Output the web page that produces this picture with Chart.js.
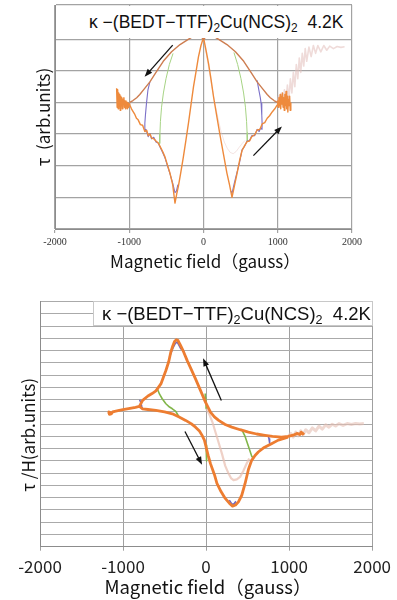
<!DOCTYPE html>
<html>
<head>
<meta charset="utf-8">
<script src="https://cdn.jsdelivr.net/npm/chart.js@4.4.1/dist/chart.umd.min.js"></script>
<style>
    html, body { margin: 0; padding: 0; background: #fff; }
    body { width: 397px; height: 600px; position: relative; overflow: hidden; }
    .panel { position: absolute; left: 0; width: 397px; }
    #topPanel { top: 0; height: 288px; }
    #bottomPanel { top: 288px; height: 312px; }
    .tag {
        position: absolute; background: #fff; color: #111; white-space: nowrap;
        font-family: "Liberation Sans", Arial, sans-serif; box-sizing: border-box;
    }
    .tag sub { font-size: 68%; vertical-align: -0.35em; line-height: 0; }
    #topTag { left: 56px; top: 6px; width: 295px; height: 32px; font-size: 17.5px; line-height: 32px; padding-left: 33px; }
    #bottomTag { left: 93px; top: 13px; width: 280px; height: 25px; font-size: 18.5px; line-height: 23px; padding-left: 8px; border: 1px solid #c8c8c8; }
</style>
</head>
<body>
<div class="panel" id="topPanel">
    <canvas id="topCanvas" width="397" height="288"></canvas>
    <div class="tag" id="topTag">κ −(BEDT−TTF)<sub>2</sub>Cu(NCS)<sub>2</sub>&nbsp; 4.2K</div>
</div>
<div class="panel" id="bottomPanel">
    <canvas id="bottomCanvas" width="397" height="312"></canvas>
    <div class="tag" id="bottomTag">κ −(BEDT−TTF)<sub>2</sub>Cu(NCS)<sub>2</sub>&nbsp; 4.2K</div>
</div>
<script>
// Axis ticks (gauss)
const fieldTicks = [-2000, -1000, 0, 1000, 2000];

// ---- Top panel: torque tau (grid units) vs field ----
// lower (up-sweep) branch incl. noisy ends
const topLowerH = [-1170,-1163,-1156,-1149,-1142,-1135,-1128,-1121,-1114,-1107,-1100,-1093,-1086,-1079,-1072,-1065,-1058,-1051,-1044,-1037,-1030,-1023,-1016,-1009,-1002,-993,
    -970,-950,-925,-903,-880,-850,-820,-790,-765,-745,-720,-700,-670,-640,-610,-587,-550,-519,-485,-451,-415,-384,-360,-339,-305,-271,-237,-203,-170,-135,-100,-68,-34,0,
    34,68,100,135,180,226,270,316,350,384,415,452,485,519,550,587,620,650,690,722,760,790,825,858,890,925,960,993,
    1000,1008,1016,1024,1032,1040,1048,1056,1064,1072,1080,1088,1096,1104,1112,1120,1128,1136,1144,1152,1160,1168,1176];
const topLowerTau = [4.45,3.85,4.4,3.8,4.3,3.95,4.25,3.75,4.2,3.9,4.15,3.8,4.1,3.95,4.15,3.85,4.05,3.8,4.05,3.9,4.0,3.8,3.98,3.85,3.95,3.92,
    3.8,3.72,3.62,3.5,3.45,3.3,3.28,3.08,3.12,2.95,3.0,2.88,2.85,2.78,2.72,2.62,2.45,2.28,2.02,1.76,1.4,0.82,1.12,1.34,1.8,2.28,2.8,3.34,3.9,4.49,4.98,5.44,5.8,6.05,
    5.65,5.23,4.75,4.18,3.55,2.92,2.35,1.76,1.4,1.0,1.35,1.76,2.15,2.48,2.62,2.76,2.78,2.92,2.98,3.13,3.15,3.32,3.36,3.5,3.58,3.7,3.8,3.92,
    4.05,3.85,4.15,3.9,4.25,3.8,4.2,3.95,4.3,3.85,4.15,3.75,4.25,3.9,4.35,3.8,4.2,3.7,4.1,3.9,4.2,3.75,4.0];
// upper (down-sweep) envelope
const topUpperH = [-993,-950,-900,-858,-800,-722,-640,-542,-430,-316,-200,-130,-90,-45,0,45,90,130,200,316,430,542,640,722,800,858,900,950,993];
const topUpperTau = [4.0,4.06,4.15,4.25,4.42,4.65,4.95,5.3,5.6,5.83,6.0,6.1,6.13,6.1,6.0,6.1,6.13,6.1,6.0,5.83,5.6,5.3,4.95,4.65,4.42,4.25,4.15,4.06,4.0];
// minor loops
const topPurpleLeftH = [-722,-748,-768,-782,-790,-790,-775,-745,-720,-700,-670,-640,-610,-587,-550,-519,-485,-451,-415,-384,-365,-345];
const topPurpleLeftTau = [4.65,4.4,3.97,3.6,3.34,3.1,3.15,2.92,3.02,2.85,2.9,2.75,2.72,2.6,2.42,2.25,2.0,1.74,1.45,1.15,1.2,1.4];
const topPurpleRightH = [722,745,765,776,785,790,788,770,750,722,690,650,620,587,550,519,485,452,415,384,370];
const topPurpleRightTau = [4.7,4.4,4.15,3.97,3.6,3.3,3.15,3.2,3.08,3.15,2.95,2.95,2.8,2.78,2.6,2.5,2.1,1.8,1.45,1.13,1.2];
const topGreenLeftH = [-410,-460,-505,-540,-565,-580,-587,-590];
const topGreenLeftTau = [5.55,5.2,4.75,4.3,3.85,3.4,3.0,2.7];
const topGreenRightH = [410,460,505,540,565,580,587,590];
const topGreenRightTau = [5.58,5.2,4.75,4.3,3.85,3.4,3.05,2.75];
// faint pink traces
const topPinkInnerH = [0,40,80,120,160,200,240,280,320,360,400,440,480,520,560];
const topPinkInnerTau = [6.0,5.5,4.95,4.4,3.9,3.45,3.05,2.75,2.55,2.42,2.38,2.45,2.58,2.7,2.8];
const topPinkOuterH = [990,1010,1030,1050,1070,1090,1110,1130,1150,1170,1190,1210,1230,1250,1270,1290,1310,1330,1350,1370,1390,1420,1450,1480,1510,1540,1580,1620,1660,1700,1750,1800,1850,1900];
const topPinkOuterTau = [4.0,4.2,3.85,4.3,3.9,4.4,4.0,4.55,4.1,4.75,4.3,4.95,4.5,5.2,4.75,5.4,4.95,5.55,5.15,5.7,5.3,5.75,5.45,5.8,5.55,5.8,5.6,5.8,5.65,5.78,5.7,5.77,5.74,5.76];
// sweep-direction arrows [H from, tau from, H to, tau to]
const topArrows = [[-415, 5.81, -793, 4.81], [672, 2.32, 1056, 3.24]];

// ---- Bottom panel: tau/H (grid units) vs field ----
const botUpperH = [-1181,-1170,-1160,-1150,-1140,-1125,-1100,-1060,-1002,-950,-900,-850,-803,-764,-700,-650,-604,-544,-484,-450,-425,-400,-380,-358,-340,-320,-306,-270,-227,-180,-127,-70,-7,53,100,152,230,310,410,510,610,709,800,907,990,1050,1100,1130,1146,1165,1180];
const botUpperTau = [10.85,11.0,10.8,10.95,10.85,11.0,11.05,11.1,11.18,11.25,11.32,11.38,11.45,11.94,12.3,12.5,12.72,13.29,14.38,15.1,15.87,16.4,16.75,16.9,16.85,16.6,16.41,15.9,15.19,14.5,13.7,12.8,11.8,10.98,10.6,10.31,9.98,9.76,9.55,9.36,9.2,9.09,9.0,8.95,9.0,9.1,9.25,9.15,9.35,9.2,9.3];
const botLowerH = [-803,-764,-700,-604,-500,-406,-330,-246,-180,-127,-80,-48,-20,0,25,53,100,131,180,231,280,319,355,390,430,470,510,549,590,629,700,788,870,987];
const botLowerTau = [11.45,11.26,11.2,11.12,11.0,10.85,10.6,10.31,10.05,9.76,9.45,9.09,8.7,8.14,7.45,6.78,5.9,5.16,4.5,3.94,3.55,3.31,3.4,3.66,4.2,5.16,6.3,7.05,7.45,7.73,8.1,8.41,8.7,8.95];
const botGreenLeftH = [-585,-560,-530,-484,-440,-406,-365,-330];
const botGreenLeftTau = [12.85,12.45,12.1,11.67,11.4,11.26,11.05,10.65];
const botGreenZeroUpH = [5,0,-5,-10];
const botGreenZeroUpTau = [11.3,11.8,12.2,12.5];
const botGreenZeroLowH = [0,4,8];
const botGreenZeroLowTau = [8.3,7.6,7.0];
const botGreenRightH = [430,470,510,549,569];
const botGreenRightTau = [9.55,9.0,8.2,7.4,7.2];
const botPurpleLeftH = [-800,-785,-775,-765];
const botPurpleLeftTau = [12.0,11.75,11.45,11.25];
const botPurpleRightH = [748,758,765,770];
const botPurpleRightTau = [9.1,8.8,8.5,8.3];
const botPurplePeakH = [-440,-400,-370,-350,-330,-300];
const botPurplePeakTau = [15.5,16.2,16.6,16.7,16.5,16.1];
const botPurpleDipH = [280,310,330,360];
const botPurpleDipTau = [3.8,3.5,3.45,3.7];
const botPinkInnerH = [0,40,80,120,160,191,231,271,300,331,370,410,450,489,520];
const botPinkInnerTau = [11.3,10.8,10.1,9.2,8.3,7.6,6.6,5.97,5.6,5.43,5.5,5.7,6.2,6.79,7.2];
const botPinkTailH = [990,1020,1050,1080,1110,1140,1170,1200,1240,1280,1320,1360,1400,1440,1480,1520,1560,1600,1650,1700,1750,1800,1850,1900];
const botPinkTailTau = [9.0,9.25,8.95,9.35,9.05,9.45,9.15,9.55,9.3,9.7,9.45,9.85,9.6,9.95,9.75,10.0,9.85,10.05,9.9,10.05,9.98,10.05,10.02,10.05];
const botArrows = [[184, 11.94, -36, 15.38], [-254, 9.41, -48, 6.70]];

const zip = (hs, ts) => hs.map((h, i) => ({ x: h, y: ts[i] }));

function line(hs, ts, color, width) {
    return {
        data: zip(hs, ts),
        showLine: true,
        borderColor: color,
        borderWidth: width,
        pointRadius: 0,
        tension: 0,
        borderJoinStyle: 'round'
    };
}

// black arrows showing sweep direction
const arrowPlugin = {
    id: 'arrows',
    afterDatasetsDraw(chart, args, opts) {
        const { ctx, scales: { x, y } } = chart;
        ctx.save();
        ctx.strokeStyle = '#111';
        ctx.fillStyle = '#111';
        ctx.lineWidth = 1.3;
        opts.list.forEach(a => {
            const x1 = x.getPixelForValue(a[0]), y1 = y.getPixelForValue(a[1]);
            const x2 = x.getPixelForValue(a[2]), y2 = y.getPixelForValue(a[3]);
            const ang = Math.atan2(y2 - y1, x2 - x1);
            const c = Math.cos(ang), s = Math.sin(ang);
            ctx.beginPath();
            ctx.moveTo(x1, y1);
            ctx.lineTo(x2 - 5 * c, y2 - 5 * s);
            ctx.stroke();
            ctx.beginPath();
            ctx.moveTo(x2, y2);
            ctx.lineTo(x2 - 8 * c + 3 * s, y2 - 8 * s - 3 * c);
            ctx.lineTo(x2 - 8 * c - 3 * s, y2 - 8 * s + 3 * c);
            ctx.closePath();
            ctx.fill();
        });
        ctx.restore();
    }
};

function createTopChart() {
    new Chart(document.getElementById('topCanvas'), {
        type: 'scatter',
        data: {
            datasets: [
                line(topUpperH, topUpperTau, '#cd7d50', 1.4),
                line(topLowerH, topLowerTau, '#ee8a3c', 1.4),
                line(topPurpleLeftH, topPurpleLeftTau, '#7b70c8', 1.1),
                line(topPurpleRightH, topPurpleRightTau, '#7b70c8', 1.1),
                line(topGreenLeftH, topGreenLeftTau, '#a6d384', 1.0),
                line(topGreenRightH, topGreenRightTau, '#a6d384', 1.0),
                line(topPinkInnerH, topPinkInnerTau, 'rgba(230,195,190,0.45)', 1.0),
                line(topPinkOuterH, topPinkOuterTau, 'rgba(225,190,185,0.55)', 1.6)
            ]
        },
        options: {
            responsive: false,
            animation: false,
            layout: { padding: { top: 5, right: 45, bottom: 0, left: 0 } },
            plugins: {
                legend: { display: false },
                tooltip: { enabled: false },
                arrows: { list: topArrows }
            },
            scales: {
                x: {
                    type: 'linear', min: -2000, max: 2000,
                    afterBuildTicks: s => { s.ticks = fieldTicks.map(v => ({ value: v })); },
                    ticks: { callback: v => String(v), color: '#333', padding: 3, maxRotation: 0,
                             font: { family: 'Liberation Serif', size: 10 } },
                    grid: { color: '#a3a3a3', lineWidth: 1.2, tickLength: 4 },
                    border: { color: '#8c8c8c' },
                    title: { display: true, text: '\u2009Magnetic field（gauss）', color: '#111',
                             font: { family: 'Noto Sans CJK JP', size: 17 }, padding: { top: 0, bottom: 16 } },
                    afterFit: s => { s.height = 59; }
                },
                y: {
                    min: 0, max: 7.08,
                    ticks: { display: false, stepSize: 1 },
                    grid: { color: '#a3a3a3', lineWidth: 1.2, drawTicks: false },
                    border: { color: '#8c8c8c' },
                    title: { display: true, text: 'τ  (arb.units)', color: '#111',
                             font: { family: 'Noto Sans CJK JP', size: 17 }, padding: { top: 33, bottom: 0 } },
                    afterFit: s => { s.width = 55; }
                }
            }
        },
        plugins: [arrowPlugin]
    });
}

function createBottomChart() {
    new Chart(document.getElementById('bottomCanvas'), {
        type: 'scatter',
        data: {
            datasets: [
                line(botUpperH, botUpperTau, '#ed7d31', 2.8),
                line(botLowerH, botLowerTau, '#ed7d31', 2.8),
                line(botPurpleLeftH, botPurpleLeftTau, '#7066c0', 1.6),
                line(botPurpleRightH, botPurpleRightTau, '#7066c0', 1.6),
                line(botPurplePeakH, botPurplePeakTau, '#7066c0', 1.6),
                line(botPurpleDipH, botPurpleDipTau, '#7066c0', 1.6),
                line(botGreenLeftH, botGreenLeftTau, '#82b64a', 1.6),
                line(botGreenZeroUpH, botGreenZeroUpTau, '#82b64a', 1.6),
                line(botGreenZeroLowH, botGreenZeroLowTau, '#82b64a', 1.6),
                line(botGreenRightH, botGreenRightTau, '#82b64a', 1.6),
                line(botPinkInnerH, botPinkInnerTau, 'rgba(232,190,175,0.7)', 2.2),
                line(botPinkTailH, botPinkTailTau, 'rgba(228,190,178,0.6)', 3)
            ]
        },
        options: {
            responsive: false,
            animation: false,
            layout: { padding: { top: 13.7, right: 21, bottom: 0, left: 0 } },
            plugins: {
                legend: { display: false },
                tooltip: { enabled: false },
                arrows: { list: botArrows }
            },
            scales: {
                x: {
                    type: 'linear', min: -2000, max: 2000,
                    afterBuildTicks: s => { s.ticks = fieldTicks.map(v => ({ value: v })); },
                    ticks: { callback: v => String(v), color: '#222', padding: 6, maxRotation: 0,
                             font: { family: 'Noto Sans CJK JP', size: 17 } },
                    grid: { color: '#a0a0a0', lineWidth: 1, tickLength: 4 },
                    border: { color: '#8c8c8c' },
                    title: { display: true, text: '\u2009Magnetic field（gauss）', color: '#111',
                             font: { family: 'Noto Sans CJK JP', size: 18.5 }, padding: { top: 0, bottom: 2 } },
                    afterFit: s => { s.height = 53.3; }
                },
                y: {
                    min: 0, max: 20,
                    ticks: { display: false, stepSize: 1 },
                    grid: { color: '#aaaaaa', lineWidth: 1, drawTicks: false },
                    border: { color: '#8c8c8c' },
                    title: { display: true, text: 'τ /H(arb.units)\u2003\u2005', color: '#111',
                             font: { family: 'Noto Sans CJK JP', size: 17 }, padding: { top: 18, bottom: 0 } },
                    afterFit: s => { s.width = 40; }
                }
            }
        },
        plugins: [arrowPlugin]
    });
}

document.addEventListener('DOMContentLoaded', () => {
    createTopChart();
    createBottomChart();
});
</script>
</body>
</html>
